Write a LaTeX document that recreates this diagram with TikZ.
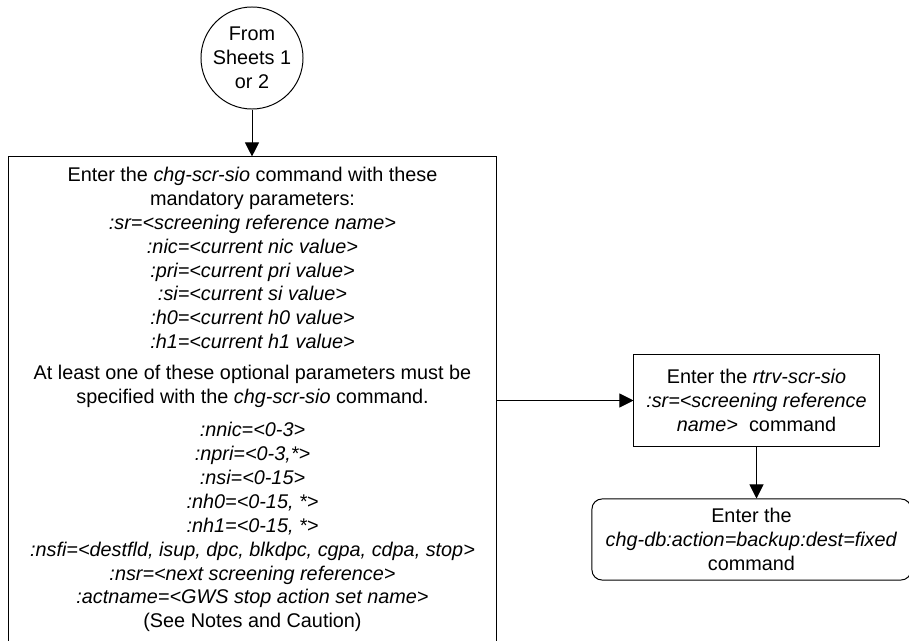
\documentclass[tikz,border=0pt]{standalone}
\usepackage{fontspec}
\setmainfont{Liberation Sans}
\usetikzlibrary{arrows.meta, positioning, shapes.geometric}

\begin{document}
\begin{tikzpicture}[x=0.025cm, y=0.025cm,
    linie/.style={line width=0.7pt},
    pfeil/.style={linie, -{Triangle[length=0.35cm, width=0.35cm]}},
    kasten/.style={draw, linie, align=center, inner sep=0pt,
                   font=\fontsize{14.1}{17}\selectfont}]
  \useasboundingbox (0,0) rectangle (909,640);

  % --- Start: Verweis auf vorherige Blaetter ---
  \node[kasten, circle, minimum size=2.55cm] (von) at (252,582)
    {From\\Sheets 1\\or 2};

  % --- Hauptkasten chg-scr-sio ---
  \node[kasten, rectangle, minimum width=12.175cm, minimum height=12.125cm]
    (chg) at (252.5,240.5)
    {Enter the \textit{chg-scr-sio} command with these\\
     mandatory parameters:\\
     \textit{:sr=<screening reference name>}\\
     \textit{:nic=<current nic value>}\\
     \textit{:pri=<current pri value>}\\
     \textit{:si=<current si value>}\\
     \textit{:h0=<current h0 value>}\\
     \textit{:h1=<current h1 value>}\\[5pt]
     At least one of these optional parameters must be\\
     specified with the \textit{chg-scr-sio} command.\\[6.5pt]
     \textit{:nnic=<0-3>}\\
     \textit{:npri=<0-3,*>}\\
     \textit{:nsi=<0-15>}\\
     \textit{:nh0=<0-15, *>}\\
     \textit{:nh1=<0-15, *>}\\
     \textit{:nsfi=<destfld, isup, dpc, blkdpc, cgpa, cdpa, stop>}\\
     \textit{:nsr=<next screening reference>}\\
     \textit{:actname=<GWS stop action set name>}\\
     (See Notes and Caution)};

  % --- rechte Spalte ---
  \node[kasten, rectangle, minimum width=6.125cm, minimum height=2.275cm]
    (rtrv) at (756.5,239.5)
    {Enter the \textit{rtrv-scr-sio}\\
     \textit{:sr=<screening reference}\\
     \textit{name>}~~command};
  \node[kasten, rectangle, rounded corners=0.25cm, minimum width=7.975cm,
        minimum height=2.025cm] (backup) at (751.5,100.5)
    {Enter the\\
     \textit{chg-db:action=backup:dest=fixed}\\
     command};

  % Pfeile
  \draw[pfeil] (von.south) -- (von.south |- chg.north);
  \draw[pfeil] (chg.east |- rtrv.west) -- (rtrv.west);
  \draw[pfeil] (rtrv.south) -- (rtrv.south |- backup.north);
\end{tikzpicture}
\end{document}
